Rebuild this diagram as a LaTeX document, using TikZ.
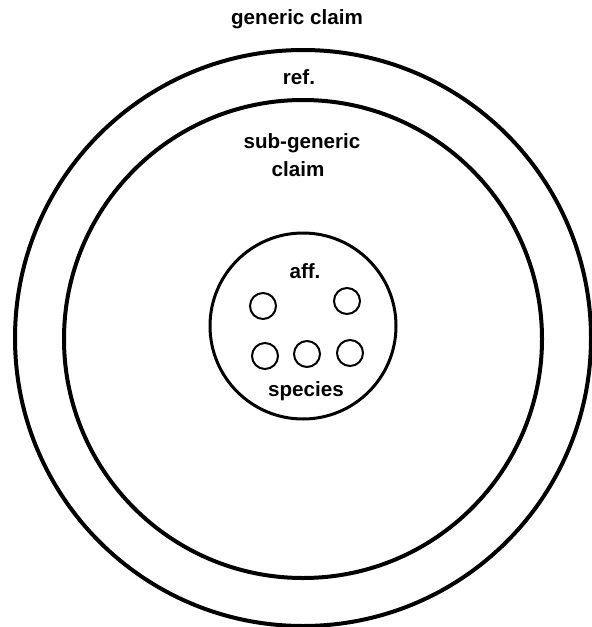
\documentclass[tikz,border=0pt]{standalone}
\usepackage{fontspec}
\setmainfont{Liberation Sans}

\begin{document}
\begin{tikzpicture}[
        x=0.5pt, y=-0.5pt,
        ring/.style={circle, draw=black, line width=#1, inner sep=0pt},
        dot/.style={circle, draw=black, line width=1pt, inner sep=0pt, minimum size=13pt},
        tag/.style={font=\fontsize{10.3}{14}\selectfont\bfseries, align=center, inner sep=0pt, anchor=base}
    ]
        \useasboundingbox (0,0) rectangle (592,627);

        \node[ring=2pt, minimum size=288pt] (generic) at (303,338) {};
        \node[ring=2pt, minimum size=239pt] (subgeneric) at (303,339) {};
        \node[ring=1.5pt, minimum size=93pt] (aff) at (303,326) {};

        \node[dot] (s1) at (263,306) {};
        \node[dot] (s2) at (347,301) {};
        \node[dot] (s3) at (265,356) {};
        \node[dot] (s4) at (307,354) {};
        \node[dot] (s5) at (350,353) {};

        \node[tag] (tgeneric) at (297,24) {generic claim};
        \node[tag] (tref) at (299,84) {ref.};
        \node[tag] (tsub) at (302,176) {sub-generic\\\hspace*{-4pt}claim};
        \node[tag] (taff) at (305,278) {aff.};
        \node[tag] (tspecies) at (306,396) {species};
    \end{tikzpicture}
\end{document}
